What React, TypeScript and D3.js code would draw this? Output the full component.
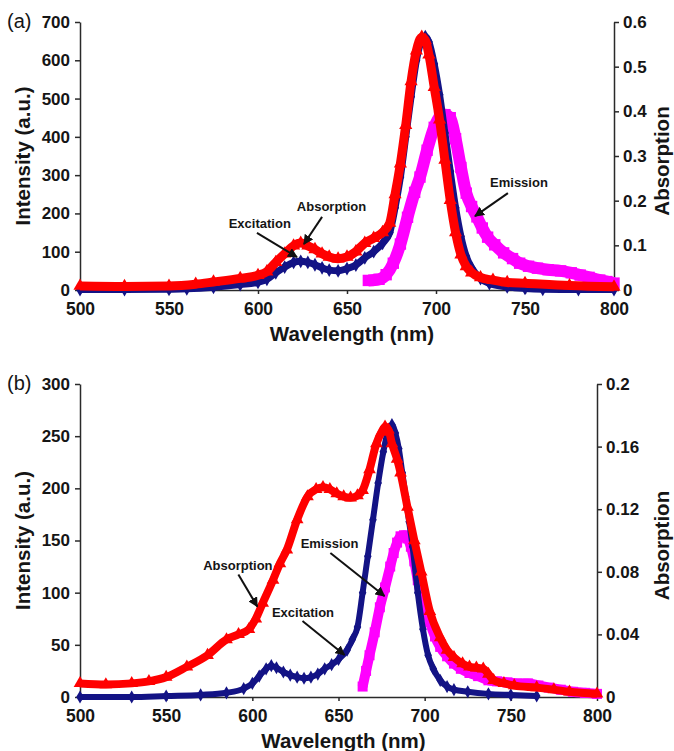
import React, { useEffect, useRef } from "react";
import * as d3 from "d3";

// spectra: [wavelength nm, value]
// panel (a)
const excitationA: [number, number][] = [
  [500, 1], [525, 1], [550, 2], [560, 3], [575, 7], [590, 14], [600, 20], [605, 28], [610, 45],
  [615, 60], [620, 72], [624, 75], [628, 72], [632, 66], [636, 58], [640, 52], [645, 50], [650, 56],
  [655, 65], [660, 84], [665, 100], [670, 122], [674, 150], [677, 215], [680, 295], [683, 400],
  [686, 505], [689, 600], [692, 652], [694, 662], [696, 648], [699, 590], [702, 510], [705, 410],
  [708, 310], [711, 215], [714, 140], [717, 88], [720, 58], [725, 30], [730, 17], [740, 8],
  [750, 4], [760, 2], [780, 1], [800, 1],
];
const absorptionA: [number, number][] = [
  [500, 0.009], [525, 0.008], [550, 0.009], [565, 0.013], [575, 0.018], [590, 0.026], [600, 0.033],
  [605, 0.041], [610, 0.062], [615, 0.081], [620, 0.099], [624, 0.105], [628, 0.099], [632, 0.091],
  [636, 0.081], [640, 0.074], [645, 0.07], [650, 0.074], [655, 0.086], [660, 0.105], [665, 0.116],
  [670, 0.129], [674, 0.15], [677, 0.214], [680, 0.283], [683, 0.369], [686, 0.467], [689, 0.536],
  [692, 0.566], [694, 0.559], [696, 0.527], [699, 0.454], [702, 0.381], [705, 0.291], [708, 0.201],
  [711, 0.129], [714, 0.079], [717, 0.053], [720, 0.039], [725, 0.028], [732, 0.022], [740, 0.017],
  [750, 0.015], [775, 0.01], [800, 0.007],
];
const emissionA: [number, number][] = [
  [662, 25], [668, 28], [672, 40], [676, 70], [680, 120], [684, 190], [688, 255], [691, 295],
  [695, 365], [699, 425], [702, 452], [705, 458], [708, 450], [711, 395], [714, 320], [717, 253],
  [720, 218], [723, 191], [726, 162], [729, 138], [733, 118], [738, 97], [743, 82], [747, 70],
  [752, 62], [757, 57], [763, 53], [770, 50], [776, 45], [781, 39], [786, 33], [792, 26],
  [796, 22], [800, 18],
];

// panel (b)
const excitationB: [number, number][] = [
  [500, 0], [530, 0], [550, 1], [570, 2], [585, 4], [595, 8], [600, 13], [604, 20], [608, 27],
  [611, 30], [614, 28], [618, 24], [622, 21], [626, 19], [630, 18], [634, 19], [638, 22], [642, 27],
  [646, 31], [650, 36], [655, 45], [658, 55], [661, 67], [664, 100], [667, 135], [670, 170],
  [673, 205], [676, 235], [679, 256], [681, 261], [683, 253], [685, 238], [687, 215], [689, 192],
  [691, 168], [693, 144], [696, 100], [699, 65], [702, 40], [705, 27], [709, 16], [713, 10],
  [717, 7], [725, 5], [737, 3], [750, 2], [765, 1],
];
const absorptionB: [number, number][] = [
  [500, 0.0087], [515, 0.008], [530, 0.0087], [540, 0.01], [550, 0.0127], [562, 0.0193],
  [574, 0.0267], [585, 0.0367], [592, 0.04], [598, 0.0433], [602, 0.05], [606, 0.06], [612, 0.0747],
  [616, 0.0853], [620, 0.094], [626, 0.1133], [632, 0.128], [637, 0.1327], [641, 0.134],
  [645, 0.1327], [649, 0.13], [653, 0.128], [657, 0.1273], [661, 0.1287], [664, 0.132],
  [668, 0.1453], [672, 0.162], [675, 0.1693], [677, 0.1727], [679, 0.1707], [681, 0.162],
  [684, 0.152], [686, 0.1433], [690, 0.1213], [694, 0.1], [698, 0.08], [703, 0.0547], [709, 0.038],
  [713, 0.03], [717, 0.0253], [722, 0.0213], [726, 0.0193], [730, 0.0187], [734, 0.018],
  [737, 0.0147], [740, 0.0107], [746, 0.0087], [752, 0.0073], [765, 0.006], [775, 0.0047],
  [784, 0.0033], [800, 0.002],
];
const emissionB: [number, number][] = [
  [664, 10], [666, 25], [668, 40], [671, 62], [674, 86], [677, 105], [680, 125], [682, 138],
  [684, 148], [686, 154], [688, 155], [690, 152], [692, 144], [694, 130], [696, 112], [698, 97],
  [701, 83], [703, 72], [706, 58], [709, 48], [713, 39], [717, 32], [721, 27], [726, 23], [731, 20],
  [737, 16], [742, 15], [748, 14], [754, 13], [760, 13], [766, 11], [772, 9], [779, 7], [786, 5],
  [793, 4], [800, 3],
];

const xTicks = [500, 550, 600, 650, 700, 750, 800];
const yTicksA = [0, 100, 200, 300, 400, 500, 600, 700];
const y2TicksA = [0, 0.1, 0.2, 0.3, 0.4, 0.5, 0.6];
const yTicksB = [0, 50, 100, 150, 200, 250, 300];
const y2TicksB = [0, 0.04, 0.08, 0.12, 0.16, 0.2];

// annotation: text anchor + arrow from/to, all in data units (nm, intensity)
const notesA = [
  { text: "Excitation", at: [601, 162], from: [599.4, 149], to: [621.9, 86] },
  { text: "Absorption", at: [641.3, 206], from: [636, 191], to: [625.8, 120] },
  { text: "Emission", at: [746.6, 269], from: [740.4, 253], to: [721.9, 193] },
];
const notesB = [
  { text: "Absorption", at: [591.6, 121.7], from: [591.9, 117.4], to: [602.9, 86.7] },
  { text: "Excitation", at: [629.4, 76.7], from: [629.1, 72.8], to: [653.5, 40.3] },
  { text: "Emission", at: [644.8, 142.8], from: [645.3, 138], to: [676.7, 96.8] },
];

const FONT = "'Liberation Sans', Arial, Helvetica, sans-serif";
const NAVY = "#131385";
const RED = "#ff0000";
const MAGENTA = "#ff00ff";

function Panel(props) {
  const ref = useRef(null);

  useEffect(() => {
    const { box, tag, yMax, yTicks, y2Max, y2Ticks, series, notes, id } = props;
    const g = d3.select(ref.current);
    g.selectAll("*").remove();

    const x = d3.scaleLinear().domain([500, 800]).range([box.left, box.right]);
    const y = d3.scaleLinear().domain([0, yMax]).range([box.bottom, box.top]);
    const y2 = d3.scaleLinear().domain([0, y2Max]).range([box.bottom, box.top]);

    // axes
    const styleAxis = (sel, size) => {
      sel.select(".domain").attr("stroke", "#2a2a2a").attr("stroke-width", 1.5);
      sel.selectAll(".tick line").attr("stroke", "#2a2a2a").attr("stroke-width", 1.5);
      sel.selectAll(".tick text")
        .attr("fill", "#151515")
        .style("font-family", FONT)
        .style("font-weight", "bold")
        .style("font-size", size + "px");
    };

    g.append("g")
      .attr("transform", `translate(0, ${box.bottom})`)
      .call(d3.axisBottom(x).tickValues(xTicks).tickSize(4).tickSizeOuter(0).tickPadding(9).tickFormat(d3.format("d")))
      .call(s => styleAxis(s, 17.5));

    g.append("g")
      .attr("transform", `translate(${box.left}, 0)`)
      .call(d3.axisLeft(y).tickValues(yTicks).tickSize(5).tickSizeOuter(0).tickPadding(5).tickFormat(d3.format("d")))
      .call(s => styleAxis(s, 17));

    g.append("g")
      .attr("transform", `translate(${box.right}, 0)`)
      .call(d3.axisRight(y2).tickValues(y2Ticks).tickSize(5).tickSizeOuter(0).tickPadding(4)
        .tickFormat(d => (d === 0 ? "0" : String(+(+d).toFixed(2)))))
      .call(s => styleAxis(s, 17));

    // series: thick band + markers at the read points
    series.forEach(s => {
      const ys = s.axis === "right" ? y2 : y;
      const line = d3.line().x(d => x(d[0])).y(d => ys(d[1])).curve(d3.curveMonotoneX);
      g.append("path")
        .datum(s.data)
        .attr("d", line)
        .attr("fill", "none")
        .attr("stroke", s.color)
        .attr("stroke-width", s.width)
        .attr("stroke-linejoin", "round")
        .attr("stroke-linecap", "butt");
      const sym = d3.symbol().type(s.symbol).size(s.size);
      g.append("g")
        .selectAll("path")
        .data(s.data)
        .join("path")
        .attr("transform", d => `translate(${x(d[0])}, ${ys(d[1])})`)
        .attr("d", sym)
        .attr("fill", s.color);
    });

    // arrows + labels
    const defs = g.append("defs");
    defs.append("marker")
      .attr("id", "head-" + id)
      .attr("viewBox", "0 0 10 10")
      .attr("refX", 9)
      .attr("refY", 5)
      .attr("markerWidth", 10)
      .attr("markerHeight", 10)
      .attr("markerUnits", "userSpaceOnUse")
      .attr("orient", "auto")
      .append("path")
      .attr("d", "M0,0 L10,5 L0,10 Z")
      .attr("fill", "#111");

    notes.forEach(n => {
      g.append("line")
        .attr("x1", x(n.from[0])).attr("y1", y(n.from[1]))
        .attr("x2", x(n.to[0])).attr("y2", y(n.to[1]))
        .attr("stroke", "#111")
        .attr("stroke-width", 2)
        .attr("marker-end", `url(#head-${id})`);
      g.append("text")
        .attr("x", x(n.at[0]))
        .attr("y", y(n.at[1]))
        .attr("text-anchor", "middle")
        .style("font-family", FONT)
        .style("font-weight", "bold")
        .style("font-size", "13px")
        .attr("fill", "#151515")
        .text(n.text);
    });

    // titles
    const midY = (box.top + box.bottom) / 2;
    g.append("text")
      .attr("x", 7)
      .attr("y", box.top + 6)
      .style("font-family", FONT)
      .style("font-size", "20px")
      .attr("fill", "#151515")
      .text(tag);

    g.append("text")
      .attr("x", (box.left + box.right) / 2 + 5)
      .attr("y", box.bottom + 51)
      .attr("text-anchor", "middle")
      .style("font-family", FONT)
      .style("font-weight", "bold")
      .style("font-size", "20.5px")
      .attr("fill", "#151515")
      .text("Wavelength (nm)");

    g.append("text")
      .attr("transform", `translate(30, ${midY}) rotate(-90)`)
      .attr("text-anchor", "middle")
      .style("font-family", FONT)
      .style("font-weight", "bold")
      .style("font-size", "20.5px")
      .attr("fill", "#151515")
      .text("Intensity (a.u.)");

    g.append("text")
      .attr("transform", `translate(669, ${midY + 5}) rotate(-90)`)
      .attr("text-anchor", "middle")
      .style("font-family", FONT)
      .style("font-weight", "bold")
      .style("font-size", "20.5px")
      .attr("fill", "#151515")
      .text("Absorption");
  }, []);

  return <g ref={ref}></g>;
}

export default function App() {
  return (
    <svg width={674} height={751} style={{ position: "absolute", left: 0, top: 0, background: "#fff" }}>
      <rect width={674} height={751} fill="#fff" />
      <Panel
        id="a"
        tag="(a)"
        box={{ left: 80, right: 614, top: 22, bottom: 290 }}
        yMax={700}
        yTicks={yTicksA}
        y2Max={0.6}
        y2Ticks={y2TicksA}
        notes={notesA}
        series={[
          { data: emissionA, axis: "left", color: MAGENTA, width: 12, symbol: d3.symbolSquare, size: 130 },
          { data: excitationA, axis: "left", color: NAVY, width: 7, symbol: d3.symbolDiamond, size: 55 },
          { data: absorptionA, axis: "right", color: RED, width: 9, symbol: d3.symbolTriangle, size: 75 },
        ]}
      />
      <Panel
        id="b"
        tag="(b)"
        box={{ left: 80, right: 597, top: 384, bottom: 697 }}
        yMax={300}
        yTicks={yTicksB}
        y2Max={0.2}
        y2Ticks={y2TicksB}
        notes={notesB}
        series={[
          { data: emissionB, axis: "left", color: MAGENTA, width: 10, symbol: d3.symbolSquare, size: 100 },
          { data: excitationB, axis: "left", color: NAVY, width: 6, symbol: d3.symbolDiamond, size: 50 },
          { data: absorptionB, axis: "right", color: RED, width: 8, symbol: d3.symbolTriangle, size: 70 },
        ]}
      />
    </svg>
  );
}
